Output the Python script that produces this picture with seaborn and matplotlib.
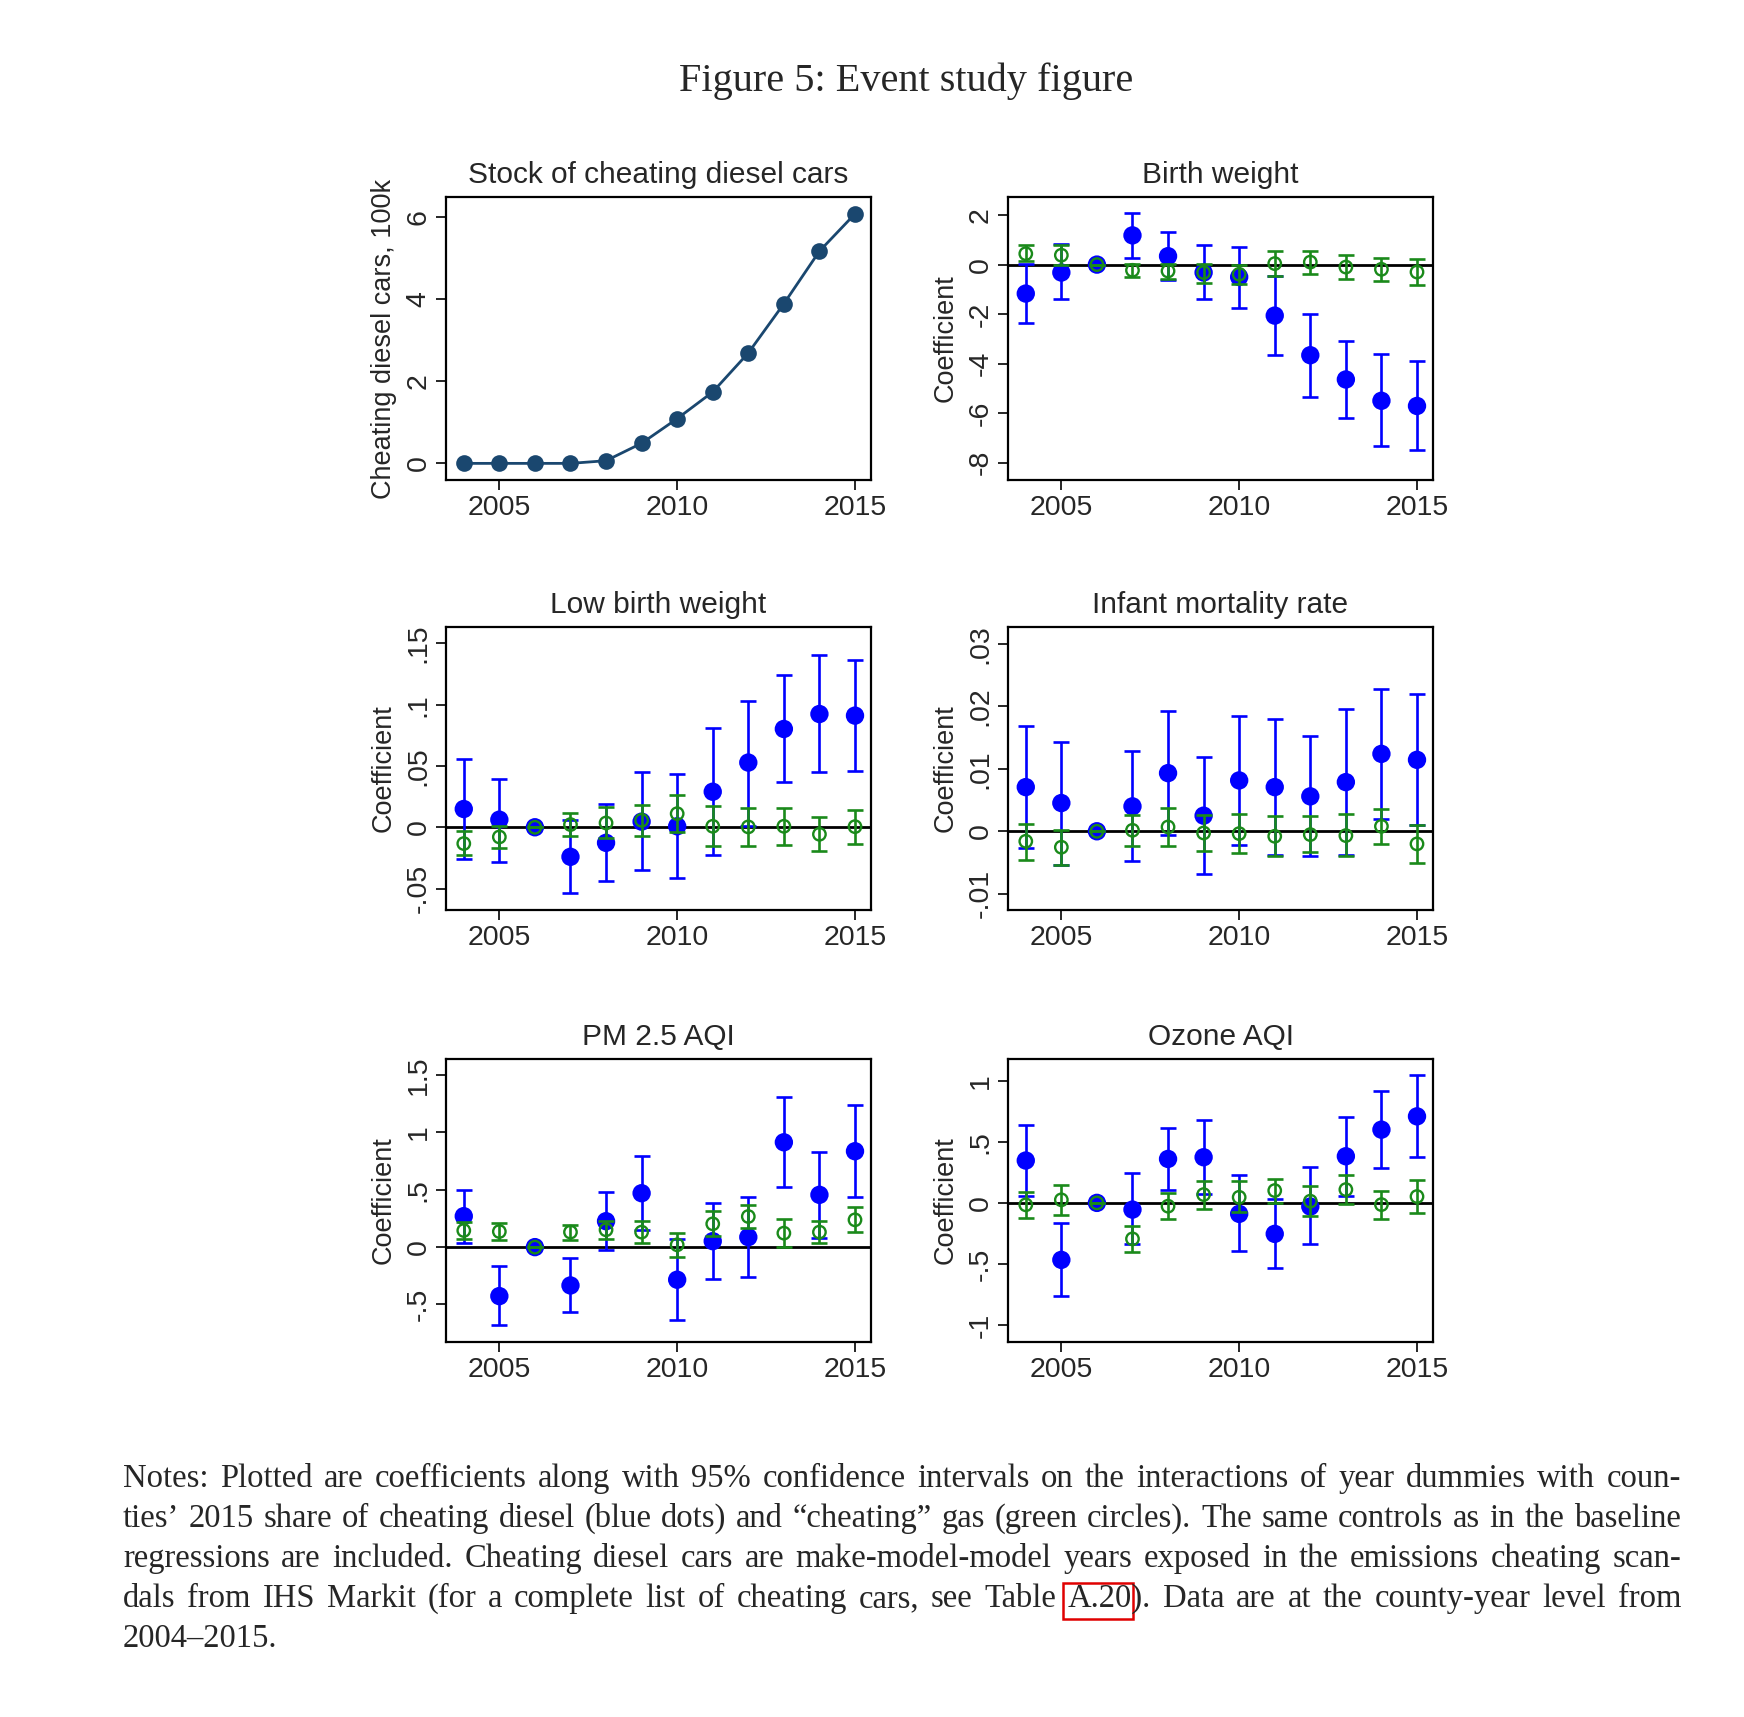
import numpy as np
import pandas as pd
import matplotlib
matplotlib.use("Agg")
import matplotlib.pyplot as plt
import seaborn as sns
from matplotlib.ticker import FuncFormatter
from matplotlib.patches import Rectangle

# ----------------------------
# Data
# ----------------------------
years = [2004, 2005, 2006, 2007, 2008, 2009, 2010, 2011, 2012, 2013, 2014, 2015]

stock_cars = [0, 0, 0, 0, 0.065, 0.49, 1.09, 1.74, 2.69, 3.89, 5.17, 6.08]

# Birth weight
bw_diesel = [-1.17, -0.32, 0, 1.18, 0.34, -0.32, -0.50, -2.06, -3.66, -4.64, -5.50, -5.71]
bw_diesel_lo = [-2.35, -1.40, 0, 0.28, -0.64, -1.40, -1.77, -3.66, -5.34, -6.21, -7.33, -7.49]
bw_diesel_hi = [0.01, 0.82, 0, 2.08, 1.32, 0.78, 0.71, -0.46, -1.98, -3.08, -3.62, -3.90]
bw_gas = [0.44, 0.38, 0, -0.23, -0.26, -0.32, -0.39, 0.04, 0.10, -0.10, -0.19, -0.30]
bw_gas_lo = [0.13, -0.02, 0, -0.50, -0.58, -0.73, -0.77, -0.47, -0.39, -0.59, -0.66, -0.81]
bw_gas_hi = [0.78, 0.78, 0, 0.02, 0.02, 0.04, 0.0, 0.55, 0.55, 0.39, 0.27, 0.24]

# Low birth weight
lbw_diesel = [0.0149, 0.0062, 0, -0.0241, -0.0127, 0.0046, 0.0008, 0.0290, 0.0528, 0.0802, 0.0924, 0.0911]
lbw_diesel_lo = [-0.0257, -0.0285, 0, -0.0539, -0.0439, -0.0352, -0.0415, -0.0225, 0.0008, 0.0369, 0.0447, 0.0461]
lbw_diesel_hi = [0.0556, 0.0396, 0, 0.0062, 0.0192, 0.0447, 0.0436, 0.0813, 0.1033, 0.1241, 0.1404, 0.1363]
lbw_gas = [-0.0133, -0.0079, 0, 0.0022, 0.0035, 0.0057, 0.0111, 0.0008, 0.0003, 0.0008, -0.0057, 0.0005]
lbw_gas_lo = [-0.0230, -0.0168, 0, -0.0073, -0.0087, -0.0068, -0.0041, -0.0154, -0.0154, -0.0144, -0.0195, -0.0133]
lbw_gas_hi = [-0.0033, 0.0008, 0, 0.0117, 0.0163, 0.0182, 0.0266, 0.0171, 0.0157, 0.0160, 0.0081, 0.0144]

# Infant mortality rate
imr_diesel = [0.00707, 0.00452, 0, 0.00399, 0.00931, 0.00250, 0.00814, 0.00707, 0.00559, 0.00787, 0.01239, 0.01144]
imr_diesel_lo = [-0.00266, -0.00532, 0, -0.00479, -0.00053, -0.00691, -0.00213, -0.00372, -0.00399, -0.00372, 0.00202, 0.00106]
imr_diesel_hi = [0.01686, 0.01436, 0, 0.01293, 0.01926, 0.01186, 0.01846, 0.01798, 0.01532, 0.01957, 0.02277, 0.02191]
imr_gas = [-0.00160, -0.00255, 0, 0.00016, 0.00069, -0.00027, -0.00037, -0.00080, -0.00053, -0.00069, 0.00080, -0.00202]
imr_gas_lo = [-0.00452, -0.00532, 0, -0.00229, -0.00229, -0.00309, -0.00346, -0.00399, -0.00335, -0.00399, -0.00197, -0.00505]
imr_gas_hi = [0.00122, 0.00016, 0, 0.00266, 0.00372, 0.00266, 0.00282, 0.00250, 0.00250, 0.00277, 0.00356, 0.00106]

# PM 2.5 AQI
pm_diesel = [0.270, -0.427, 0, -0.334, 0.226, 0.470, -0.284, 0.052, 0.087, 0.914, 0.456, 0.836]
pm_diesel_lo = [0.038, -0.676, 0, -0.566, -0.029, 0.145, -0.639, -0.282, -0.261, 0.522, 0.081, 0.441]
pm_diesel_hi = [0.499, -0.163, 0, -0.093, 0.479, 0.798, 0.073, 0.386, 0.441, 1.306, 0.827, 1.239]
pm_gas = [0.145, 0.136, 0, 0.131, 0.151, 0.131, 0.020, 0.203, 0.267, 0.122, 0.131, 0.238]
pm_gas_lo = [0.073, 0.058, 0, 0.064, 0.073, 0.038, -0.087, 0.093, 0.168, 0.0, 0.035, 0.131]
pm_gas_hi = [0.218, 0.212, 0, 0.197, 0.226, 0.224, 0.125, 0.311, 0.363, 0.241, 0.232, 0.348]

# Ozone AQI
oz_diesel = [0.347, -0.467, 0, -0.055, 0.360, 0.374, -0.090, -0.254, -0.030, 0.382, 0.600, 0.709]
oz_diesel_lo = [0.060, -0.767, 0, -0.336, 0.106, 0.074, -0.396, -0.532, -0.336, 0.060, 0.286, 0.374]
oz_diesel_hi = [0.638, -0.166, 0, 0.243, 0.611, 0.682, 0.229, 0.033, 0.292, 0.701, 0.919, 1.050]
oz_gas = [-0.016, 0.025, 0, -0.295, -0.027, 0.068, 0.046, 0.101, 0.014, 0.109, -0.014, 0.052]
oz_gas_lo = [-0.126, -0.101, 0, -0.404, -0.134, -0.049, -0.076, 0.0, -0.104, -0.008, -0.131, -0.082]
oz_gas_hi = [0.093, 0.150, 0, -0.186, 0.079, 0.177, 0.177, 0.196, 0.136, 0.232, 0.101, 0.188]

panel_titles = ["Birth weight", "Low birth weight", "Infant mortality rate", "PM 2.5 AQI", "Ozone AQI"]
panel_yticks = [[-8, -6, -4, -2, 0, 2],
                [-0.05, 0, 0.05, 0.1, 0.15],
                [-0.01, 0, 0.01, 0.02, 0.03],
                [-0.5, 0, 0.5, 1, 1.5],
                [-1, -0.5, 0, 0.5, 1]]
panel_ylims = [(-8.7, 2.73), (-0.0675, 0.1634), (-0.0126, 0.0327), (-0.827, 1.64), (-1.14, 1.179)]

notes_lines = [
    "Notes: Plotted are coefficients along with 95% confidence intervals on the interactions of year dummies with coun-",
    "ties\u2019 2015 share of cheating diesel (blue dots) and \u201ccheating\u201d gas (green circles). The same controls as in the baseline",
    "regressions are included. Cheating diesel cars are make-model-model years exposed in the emissions cheating scan-",
    "dals from IHS Markit (for a complete list of cheating cars, see Table A.20). Data are at the county-year level from",
    "2004\u20132015.",
]

# ----------------------------
# Style
# ----------------------------
sns.set_style("ticks")
plt.rcParams["font.family"] = ["Liberation Sans", "DejaVu Sans"]

BLUE = "#0000ff"
GREEN = "#1a8a1a"
NAVY = "#1a476f"

TICK_FS = 20.5
LABEL_FS = 19.5
TITLE_FS = 21.5


def stata_fmt(v, pos):
    s = ("%g" % round(v, 6))
    if s.startswith("0."):
        s = s[1:]
    elif s.startswith("-0."):
        s = "-" + s[2:]
    return s


def style_axes(ax):
    for side in ["top", "right", "bottom", "left"]:
        ax.spines[side].set_visible(True)
        ax.spines[side].set_linewidth(1.6)
        ax.spines[side].set_color("black")
    ax.tick_params(axis="both", length=7, width=1.4, labelsize=TICK_FS, direction="out")
    ax.tick_params(axis="y", labelrotation=90)
    for lab in ax.get_yticklabels():
        lab.set_va("center")
    ax.set_xlim(2003.5, 2015.45)
    ax.set_xticks([2005, 2010, 2015])
    ax.yaxis.set_major_formatter(FuncFormatter(stata_fmt))
    ax.grid(False)


fig = plt.figure(figsize=(17.44, 17.17), dpi=100)

col_left = [446 / 1744, 1008 / 1744]
col_w = [425 / 1744, 425 / 1744]
row_bottom = [1 - 480 / 1717, 1 - 910 / 1717, 1 - 1342 / 1717]
row_h = 283 / 1717

# ----------------------------
# Panel 1: stock of cheating cars
# ----------------------------
ax0 = fig.add_axes([col_left[0], row_bottom[0], col_w[0], row_h])
df_stock = pd.DataFrame({"year": years, "stock": stock_cars})
sns.lineplot(data=df_stock, x="year", y="stock", ax=ax0, color=NAVY, lw=2,
             marker="o", markersize=12, markeredgewidth=0)
ax0.set_ylim(-0.405, 6.49)
ax0.set_yticks([0, 2, 4, 6])
ax0.set_title("Stock of cheating diesel cars", fontsize=TITLE_FS, pad=10)
ax0.set_xlabel("")
ax0.set_ylabel("Cheating diesel cars, 100k", fontsize=LABEL_FS, labelpad=6)
style_axes(ax0)

# ----------------------------
# Coefficient panels
# ----------------------------
panels = [
    (bw_diesel, bw_diesel_lo, bw_diesel_hi, bw_gas, bw_gas_lo, bw_gas_hi),
    (lbw_diesel, lbw_diesel_lo, lbw_diesel_hi, lbw_gas, lbw_gas_lo, lbw_gas_hi),
    (imr_diesel, imr_diesel_lo, imr_diesel_hi, imr_gas, imr_gas_lo, imr_gas_hi),
    (pm_diesel, pm_diesel_lo, pm_diesel_hi, pm_gas, pm_gas_lo, pm_gas_hi),
    (oz_diesel, oz_diesel_lo, oz_diesel_hi, oz_gas, oz_gas_lo, oz_gas_hi),
]
slots = [(0, 1), (1, 0), (1, 1), (2, 0), (2, 1)]

for i, (d, dlo, dhi, g, glo, ghi) in enumerate(panels):
    r, c = slots[i]
    ax = fig.add_axes([col_left[c], row_bottom[r], col_w[c], row_h])
    df = pd.DataFrame({"year": years, "d": d, "dlo": dlo, "dhi": dhi,
                       "g": g, "glo": glo, "ghi": ghi})

    ax.axhline(0, color="black", lw=2, zorder=1)

    # cheating diesel (blue dots)
    ax.errorbar(df["year"], df["d"],
                yerr=[df["d"] - df["dlo"], df["dhi"] - df["d"]],
                fmt="none", ecolor=BLUE, elinewidth=1.9, capsize=6, capthick=1.9, zorder=2)
    sns.scatterplot(data=df, x="year", y="d", ax=ax, color=BLUE, s=175,
                    edgecolor="none", zorder=3)

    # "cheating" gas (green circles)
    ax.errorbar(df["year"], df["g"],
                yerr=[df["g"] - df["glo"], df["ghi"] - df["g"]],
                fmt="none", ecolor=GREEN, elinewidth=1.9, capsize=6, capthick=1.9, zorder=4)
    sns.scatterplot(data=df, x="year", y="g", ax=ax, s=80, facecolor="none",
                    edgecolor=GREEN, linewidth=1.7, zorder=5)

    ax.set_ylim(*panel_ylims[i])
    ax.set_yticks(panel_yticks[i])
    ax.set_title(panel_titles[i], fontsize=TITLE_FS, pad=10)
    ax.set_xlabel("")
    ax.set_ylabel("Coefficient", fontsize=LABEL_FS, labelpad=6)
    style_axes(ax)

# ----------------------------
# Figure title and notes
# ----------------------------
fig.text(906 / 1744, 1 - 81 / 1717, "Figure 5: Event study figure",
         family="Liberation Serif", fontsize=29, ha="center", va="center")

renderer = fig.canvas.get_renderer()
NOTE_FS = 23.5
x_left, x_right = 123, 1681
baselines = [1487, 1527, 1567, 1607, 1647]


def text_width(s):
    t = fig.text(0, 0, s, family="Liberation Serif", fontsize=NOTE_FS)
    w = t.get_window_extent(renderer).width
    t.remove()
    return w


for k, line in enumerate(notes_lines):
    yb = 1 - baselines[k] / 1717
    words = line.split(" ")
    widths = [text_width(w) for w in words]
    if k < len(notes_lines) - 1:
        gap = (x_right - x_left - sum(widths)) / (len(words) - 1)
    else:
        gap = text_width("a b") - text_width("ab")
    x = x_left
    for w, wd in zip(words, widths):
        fig.text(x / 1744, yb, w, family="Liberation Serif", fontsize=NOTE_FS,
                 ha="left", va="baseline")
        if w.startswith("A.20"):
            box_w = text_width("A.20")
            fig.patches.append(Rectangle(((x - 5) / 1744, 1 - 1619 / 1717),
                                         (box_w + 6) / 1744, 36 / 1717,
                                         transform=fig.transFigure, fill=False,
                                         edgecolor="#e00000", lw=1.8))
        x += wd + gap

fig.savefig("out.png", dpi=100)
